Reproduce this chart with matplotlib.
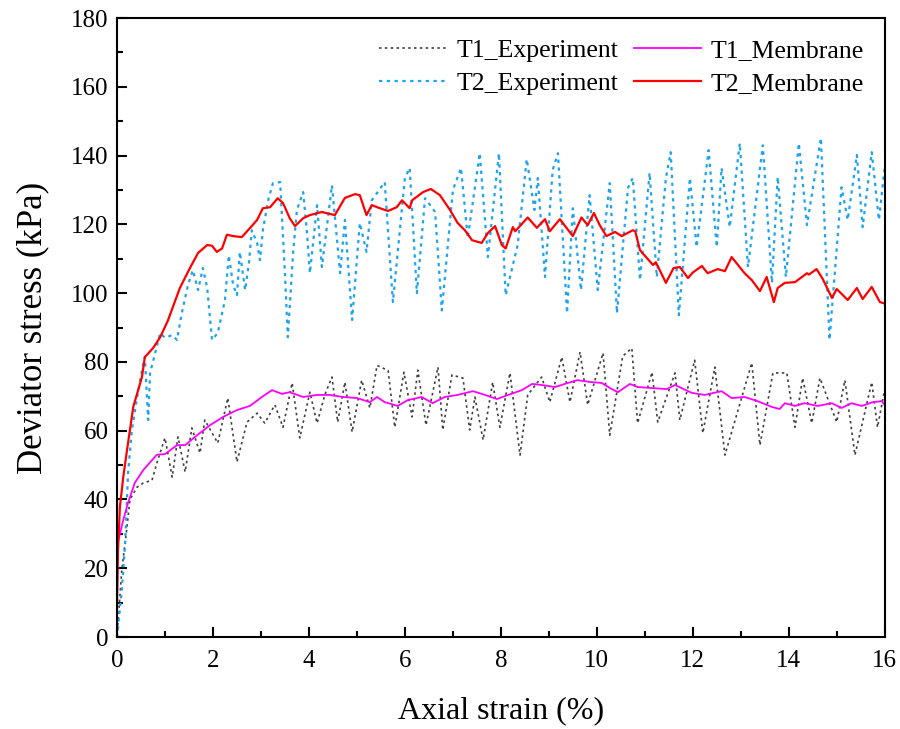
import matplotlib.pyplot as plt
from matplotlib.ticker import MultipleLocator

plt.rcParams['font.family'] = ['Liberation Serif', 'DejaVu Serif']

# T1 experiment (peaks / troughs)
t1_exp_x = [0, 0.1, 0.2, 0.27, 0.42, 0.55, 0.73, 0.83, 1.0, 1.15, 1.27, 1.42, 1.56, 1.73, 1.83,
            2.1, 2.31, 2.5, 2.71, 2.92, 3.08, 3.29, 3.46, 3.65, 3.81, 4.02, 4.17, 4.33, 4.48,
            4.6, 4.75, 4.9, 5.1, 5.27, 5.42, 5.65, 5.79, 5.98, 6.15, 6.27, 6.44, 6.69, 6.79,
            6.98, 7.21, 7.35, 7.46, 7.63, 7.83, 7.98, 8.19, 8.4, 8.56, 8.85, 9.02, 9.27, 9.44,
            9.65, 9.81, 10.13, 10.27, 10.54, 10.73, 10.85, 11.15, 11.27, 11.63, 11.73, 12.04,
            12.21, 12.46, 12.67, 13.23, 13.4, 13.67, 13.96, 14.13, 14.29, 14.48, 14.65, 15.0,
            15.17, 15.38, 15.73, 15.85, 16.0]
t1_exp_y = [0, 19.5, 31, 40, 43.6, 44.8, 45.6, 50.6, 57.9, 46.5, 58.2, 48, 60.8, 53.5, 63.1,
            56.4, 69.5, 50.9, 62.5, 65.1, 62.2, 67.5, 61, 73.9, 57.9, 71.2, 62.2, 70.4, 75.6,
            62.5, 74.1, 59.6, 74.7, 66.6, 79, 77.5, 61, 77, 64, 77.6, 61.6, 78.5, 60.2,
            76.2, 75.3, 60.2, 69.8, 57.3, 74.1, 61, 76.8, 52.9, 70.4, 75.6, 68.3, 81.4, 68.3,
            82.9, 67.5, 82.6, 58.7, 81.7, 84, 62.2, 77, 62.5, 76.8, 63.1, 80.5,
            59.3, 78.5, 52.9, 79.7, 55.8, 76.8, 76.8, 61, 75.3, 62.2, 75.3, 62.5,
            74.7, 52.9, 74.1, 61, 72]

# T1 membrane
t1_mem_x = [0, 0.01, 0.13, 0.23, 0.37, 0.55, 0.83, 1.0, 1.25, 1.42, 1.67, 1.94, 2.21, 2.5,
            2.77, 3.02, 3.23, 3.44, 3.6, 3.88, 4.17, 4.44, 4.71, 5.0, 5.27, 5.42, 5.58, 5.85,
            6.06, 6.35, 6.58, 6.83, 7.1, 7.42, 7.67, 7.92, 8.15, 8.44, 8.65, 8.85, 9.13, 9.4,
            9.6, 9.9, 10.1, 10.31, 10.44, 10.69, 10.85, 11.15, 11.46, 11.63, 11.98, 12.25,
            12.6, 12.81, 13.08, 13.35, 13.65, 13.81, 13.92, 14.13, 14.33, 14.6, 14.9, 15.1,
            15.31, 15.52, 15.75, 15.94, 16.0]
t1_mem_y = [10, 27, 34, 39, 44.8, 48.6, 53, 53.2, 55.8, 55.8, 58.7, 61.6, 64, 66,
            67.2, 69.8, 71.8, 70.7, 71.2, 69.8, 70.4, 70.4, 69.8, 69.5, 68.3, 69.8, 68.3, 67.2,
            68.9, 69.8, 68, 69.8, 70.4, 71.5, 70.4, 69.2, 70.4, 71.8, 73.6, 73.3, 72.7, 73.9,
            74.7, 74.1, 73.9, 72.1, 71.2, 73.6, 72.7, 72.4, 72.1, 73.3, 71, 70.4,
            71.5, 69.5, 69.8, 68.6, 66.9, 66.3, 68, 67.2, 68, 67.2, 68, 66.6,
            68, 67.2, 68.3, 68.6, 67.5]

# T2 experiment
t2_exp_x = [0, 0.02, 0.1, 0.17, 0.23, 0.31, 0.42, 0.52, 0.58, 0.65, 0.69, 0.9, 1.0, 1.15, 1.25,
            1.35, 1.48, 1.58, 1.69, 1.79, 1.88, 1.98, 2.1, 2.25, 2.33, 2.42, 2.5, 2.56, 2.67,
            2.75, 2.81, 2.92, 2.98, 3.04, 3.15, 3.25, 3.4, 3.5, 3.56, 3.67, 3.75, 3.88, 3.96,
            4.02, 4.17, 4.27, 4.48, 4.65, 4.75, 4.9, 5.06, 5.2, 5.31, 5.58, 5.75, 6.0, 6.1,
            6.25, 6.42, 6.63, 6.77, 7.0, 7.17, 7.31, 7.56, 7.73, 7.96, 8.1, 8.35, 8.54, 8.7,
            8.77, 8.92, 9.08, 9.19, 9.38, 9.5, 9.67, 9.85, 10.02, 10.27, 10.42, 10.65, 10.75,
            10.9, 11.1, 11.25, 11.44, 11.54, 11.71, 11.94, 12.08, 12.33, 12.5, 12.6, 12.77,
            12.98, 13.15, 13.46, 13.65, 13.77, 13.94, 14.21, 14.38, 14.67, 14.85, 15.1, 15.23,
            15.42, 15.54, 15.73, 15.88, 16.0]
t2_exp_y = [0, 2.6, 13.7, 27.3, 47.7, 60.2, 69.8, 77.6, 81.4, 63.1, 76.8, 88.4, 87, 87.8, 86.4,
            94.2, 102.4, 106.7, 100.9, 107.3, 101.5, 86.4, 88.4, 98, 111, 102.4, 99.4, 112, 100.9,
            108.8, 118.3, 114.6, 109.6, 118.3, 127, 132, 132.3, 105.8, 87.2, 111.7, 124.2, 129.4, 117.5,
            105.8, 125.6, 107.6, 131.4, 105.8, 121.3, 92.2, 120.4, 112, 127, 132.3, 97.4, 133.5, 136.4,
            100, 127.6, 123.6, 95, 130, 136.4, 116, 140.7, 110.5, 140.7, 99.4, 114, 139, 124.2,
            133.5, 104.7, 135.8, 140.7, 94.2, 124.7, 100.9, 128.5, 100.9, 132, 94.2, 130.6, 133.5,
            103.8, 135, 104.7, 133.5, 141, 93.6, 133.5, 113.4, 141.6, 113.4, 136.4, 119.2,
            143.6, 107.6, 143, 103, 133.8, 104.7, 143.6, 119.8, 145.1, 86.4, 130.8, 121.3,
            140.2, 119.2, 141, 121.3, 136.7]

# T2 membrane
t2_mem_x = [0, 0.02, 0.06, 0.13, 0.2, 0.34, 0.52, 0.58, 0.75, 0.9, 1.06, 1.31, 1.52, 1.69, 1.88,
            1.98, 2.08, 2.19, 2.29, 2.42, 2.6, 2.77, 2.92, 3.04, 3.19, 3.35, 3.46, 3.6, 3.71,
            3.88, 4.02, 4.27, 4.54, 4.75, 4.96, 5.06, 5.2, 5.31, 5.48, 5.65, 5.83, 5.94, 6.1,
            6.15, 6.38, 6.54, 6.73, 6.94, 7.1, 7.25, 7.4, 7.6, 7.73, 7.88, 8.02, 8.1, 8.25,
            8.3, 8.56, 8.75, 8.92, 9.02, 9.23, 9.5, 9.68, 9.81, 9.94, 10.06, 10.2, 10.38, 10.52,
            10.75, 10.8, 10.9, 11.17, 11.23, 11.44, 11.6, 11.73, 11.9, 12.0, 12.19, 12.31,
            12.52, 12.67, 12.81, 13.08, 13.23, 13.4, 13.54, 13.69, 13.77, 13.92, 14.13, 14.38,
            14.42, 14.58, 14.71, 14.9, 15.0, 15.23, 15.42, 15.54, 15.73, 15.9, 16.0]
t2_mem_y = [8, 25, 37.8, 46.5, 53.5, 67, 75.6, 81.4, 84, 87.2, 92, 101.5, 107.3, 111.7, 114,
            113.8, 112, 113, 117, 116.6, 116.3, 118.9, 121.3, 124.7, 125, 127.6, 126.2, 121.8, 119.5,
            121.8, 122.7, 123.6, 122.7, 127.7, 128.8, 128.5, 122.7, 125.6, 124.7, 123.9, 125, 127, 124.7,
            127, 129.4, 130.3, 128.5, 124.2, 120.4, 118.3, 115.4, 114.6, 117.5, 119.5, 114, 113, 119.2,
            118, 122, 119, 121.5, 118, 121.5, 116.6, 122, 119.8, 123.3, 119.8, 116.6, 117.8, 116.6,
            118.3, 118, 112.5, 108.2, 109, 103, 107.3, 107.6, 104.4, 106, 107.9, 105.8,
            107, 106.4, 110.5, 105.8, 103.8, 100.6, 104.7, 97.4, 101.5, 103, 103.2, 105.8,
            105.4, 107, 104.1, 98.6, 101.2, 98, 101.5, 98.3, 101.8, 97.4, 97]

fig = plt.figure(figsize=(9, 7.29), dpi=100)
ax = fig.add_axes([0.13, 0.1262, 0.853, 0.849])

ax.plot(t1_exp_x, t1_exp_y, color='#404040', linestyle=(0, (1.5, 2)), linewidth=1.2, label='T1_Experiment')
ax.plot(t2_exp_x, t2_exp_y, color='#1ea3f0', linestyle=(0, (1.5, 2)), linewidth=1.6, label='T2_Experiment')
ax.plot(t1_mem_x, t1_mem_y, color='#ff00ff', linewidth=1.3, label='T1_Membrane')
ax.plot(t2_mem_x, t2_mem_y, color='#ff0000', linewidth=1.6, label='T2_Membrane')

ax.set_xlim(0, 16)
ax.set_ylim(0, 180)
ax.xaxis.set_major_locator(MultipleLocator(2))
ax.xaxis.set_minor_locator(MultipleLocator(1))
ax.yaxis.set_major_locator(MultipleLocator(20))
ax.yaxis.set_minor_locator(MultipleLocator(10))
ax.tick_params(which='both', direction='in', labelsize=18, width=1.5)
ax.tick_params(which='major', length=7, pad=6)
ax.tick_params(axis='x', which='major', pad=9)
ax.tick_params(which='minor', length=4)
for s in ax.spines.values():
    s.set_linewidth(1.5)

ax.set_xlabel('Axial strain (%)', fontsize=23, labelpad=18)
ax.set_ylabel('Deviator stress (kPa)', fontsize=25, labelpad=16)

ax.legend(loc='upper right', ncol=2, frameon=False, fontsize=18.5, handlelength=2.6,
          columnspacing=0.6, handletextpad=0.4, labelspacing=0.4, borderaxespad=0.4)

fig.savefig('out.png', dpi=100)
